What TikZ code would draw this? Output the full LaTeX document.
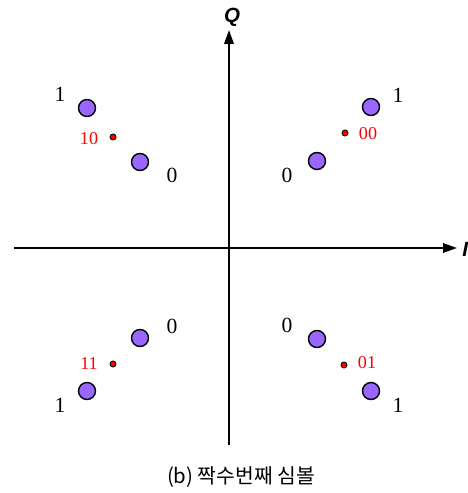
\documentclass[tikz,border=0pt]{standalone}
\usepackage{fontspec}
\setmainfont{Liberation Serif}
\setsansfont{Liberation Sans}
\newfontfamily\krfont{Noto Sans CJK KR}
\usepackage{xcolor}
\usetikzlibrary{arrows.meta}
\definecolor{symfill}{RGB}{153,102,255}
\tikzset{
  sym/.style={circle,draw=black,fill=symfill,line width=0.8pt,minimum size=0.34cm,inner sep=0pt},
  mid/.style={circle,draw=black,fill=red,line width=0.5pt,minimum size=0.12cm,inner sep=0pt},
  bitlbl/.style={font=\fontsize{12.3}{14}\selectfont,inner sep=0pt},
  pairlbl/.style={text=red,font=\fontsize{10.3}{12}\selectfont,inner sep=0pt},
  axislbl/.style={font=\sffamily\bfseries\itshape\fontsize{11.7}{13}\selectfont,inner sep=0pt}
}

\begin{document}
\begin{tikzpicture}[x=0.02cm,y=-0.02cm]
\useasboundingbox (0,0) rectangle (467,493);
% axes
\coordinate (xl) at (14,248);
\coordinate (xr) at (457,248);
\coordinate (yb) at (229,445);
\coordinate (yt) at (229,30);
\draw[line width=1.1pt,-{Triangle[length=2.8mm,width=1.9mm]}] (xl) -- (xr);
\draw[line width=1.1pt,-{Triangle[length=2.8mm,width=1.9mm]}] (yb) -- (yt);
\node[axislbl] (qlbl) at (232,17) {Q};
\node[axislbl,anchor=west] (ilbl) at (462,249) {I};
% symbols
\foreach \n/\x/\y in {tlo/87/108, tli/140/162, tro/371/107, tri/317/161,
                      bli/140/338, blo/87/391, bri/317/339, bro/371/391}
  \node[sym] (\n) at (\x,\y) {};
\foreach \n/\x/\y in {tlm/113/137, trm/345/133, blm/113/364, brm/344/365}
  \node[mid] (\n) at (\x,\y) {};
% labels
\foreach \n/\x/\y/\t in {l1/60/94/1, l2/172/175/0, l3/398/95/1, l4/287/175/0,
                         l5/172/326/0, l6/60/405/1, l7/287/325/0, l8/398/405/1}
  \node[bitlbl] (\n) at (\x,\y) {\t};
\foreach \n/\x/\y/\t in {p1/89/139/10, p2/368/134/00, p3/89/364/11, p4/367/363/01}
  \node[pairlbl] (\n) at (\x,\y) {\t};
\node[font=\krfont\fontsize{11.6}{13}\selectfont] (cap) at (241,477) {(b) 짝수번째 심볼};
\end{tikzpicture}
\end{document}
